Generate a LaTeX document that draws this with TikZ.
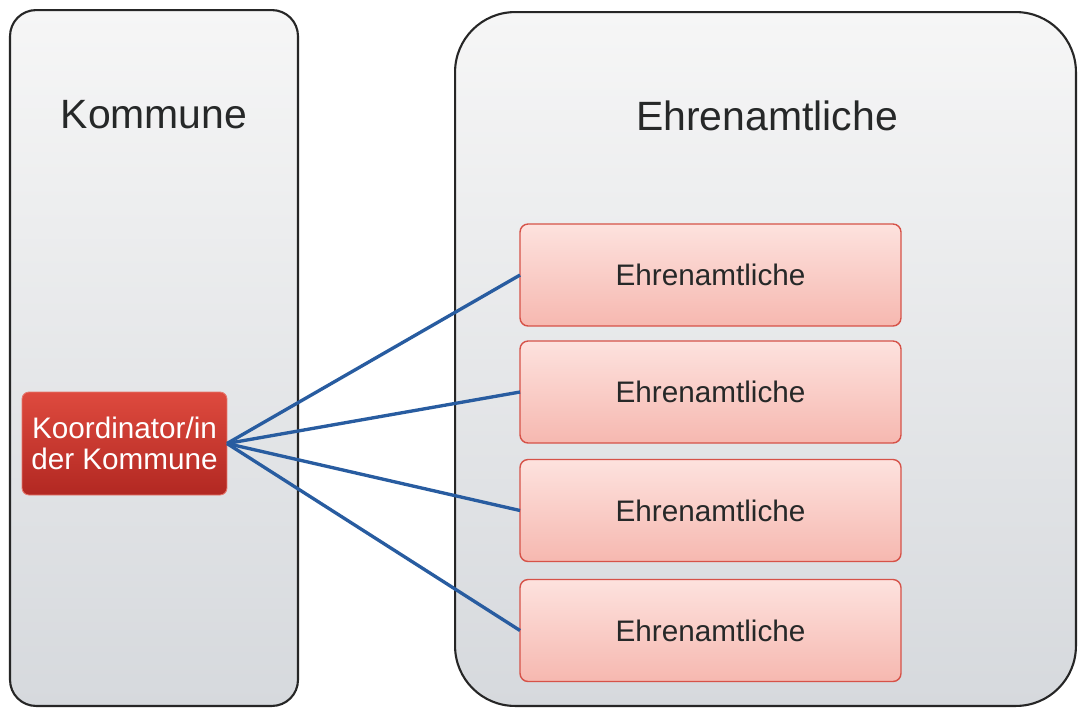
\documentclass[tikz,border=0pt]{standalone}
\usepackage{fontspec}
\setmainfont{Liberation Sans}
\usetikzlibrary{shadings}
\definecolor{txtdark}{RGB}{38,40,40}
\definecolor{panelTop}{RGB}{246,246,246}
\definecolor{panelBot}{RGB}{214,217,221}
\definecolor{redTop}{RGB}{222,74,62}
\definecolor{redBot}{RGB}{178,40,34}
\definecolor{redEdge}{RGB}{230,120,110}
\definecolor{pinkTop}{RGB}{253,226,222}
\definecolor{pinkBot}{RGB}{246,184,176}
\definecolor{pinkEdge}{RGB}{214,82,72}
\definecolor{linkBlue}{RGB}{40,92,160}
\tikzset{
  panel/.style={draw=black!85, line width=1.2pt, top color=panelTop, bottom color=panelBot, inner sep=0pt, outer sep=0pt},
  titletext/.style={font=\fontsize{23.3pt}{27pt}\selectfont, text=txtdark, inner sep=0pt, anchor=base},
  coordbox/.style={draw=redEdge, line width=0.5pt, top color=redTop, bottom color=redBot, rounded corners=0.14cm,
    minimum width=4.1cm, minimum height=2.06cm, inner sep=0pt, outer sep=0pt, text=white, align=center,
    font=\fontsize{16.9pt}{17.6pt}\selectfont},
  volbox/.style={draw=pinkEdge, line width=0.8pt, top color=pinkTop, bottom color=pinkBot, rounded corners=0.16cm,
    minimum width=7.62cm, minimum height=2.04cm, inner sep=0pt, outer sep=0pt, text=txtdark,
    font=\fontsize{16.9pt}{20pt}\selectfont},
  link/.style={draw=linkBlue, line width=1.9pt}
}
\begin{document}
\begin{tikzpicture}[x=0.02cm, y=-0.02cm]
\useasboundingbox[fill=white] (0,0) rectangle (1078,708);
\node[panel, rounded corners=0.52cm, minimum width=5.76cm, minimum height=13.92cm] (left) at (154,358) {};
\node[panel, rounded corners=1.2cm, minimum width=12.42cm, minimum height=13.88cm] (right) at (765.5,359) {};
\node[titletext] (tleft) at (154,128) {Kommune};
\node[titletext] (tright) at (767,130) {Ehrenamtliche};
\node[coordbox] (koord) at (124.5,443.5) {Koordinator/in\\der Kommune};
\node[volbox] (e1) at (710.5,275) {Ehrenamtliche};
\node[volbox] (e2) at (710.5,392) {Ehrenamtliche};
\node[volbox] (e3) at (710.5,510.5) {Ehrenamtliche};
\node[volbox] (e4) at (710.5,630.5) {Ehrenamtliche};
\foreach \t in {e1,e2,e3,e4}
  \draw[link] (koord.east) -- (\t.west);
\end{tikzpicture}
\end{document}
